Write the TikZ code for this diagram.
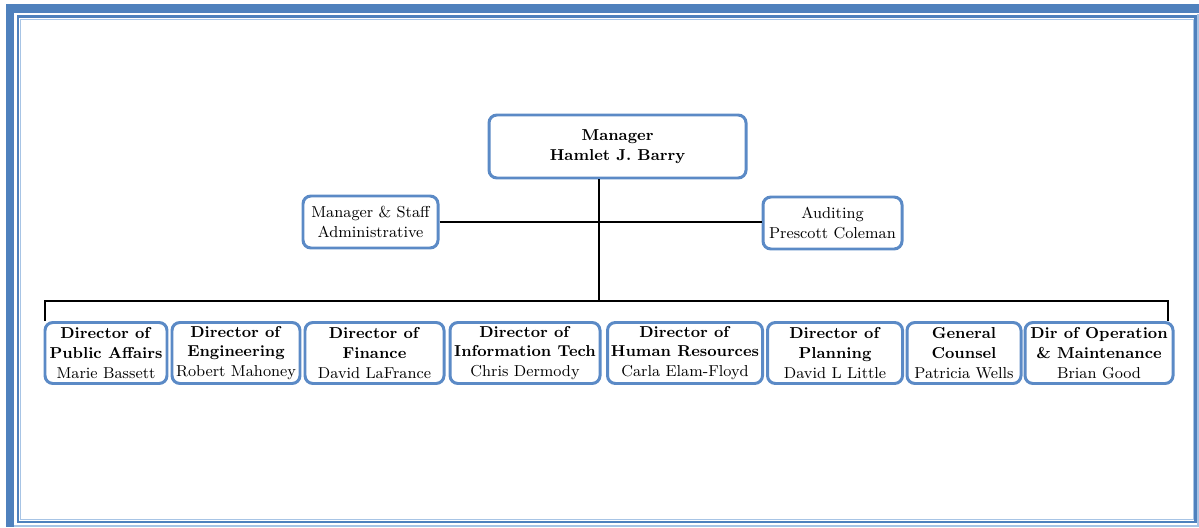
\documentclass[tikz,border=0pt]{standalone}
\usepackage{xcolor}
\usepackage{tikz}
\usetikzlibrary{positioning}

\definecolor{frameblue}{HTML}{4F81BD}
\definecolor{framelight}{HTML}{A7C4E5}
\definecolor{boxblue}{HTML}{5B8AC6}

\begin{document}
\begin{tikzpicture}[x=0.02cm, y=-0.02cm,
		unit/.style={draw=boxblue, line width=1.7pt, rounded corners=4.5pt, fill=white,
			inner sep=0pt, align=center, font=\fontsize{9}{11.3}\selectfont},
		link/.style={draw=black, line width=1.1pt}]
		\useasboundingbox (0, 0) rectangle (1199, 527);

		% page frame
		\fill[frameblue] (6, 4) rectangle (1199, 13);
		\fill[frameblue] (6, 4) rectangle (14, 527);
		\draw[framelight, line width=0.6pt] (14, 526) -- (1198, 526) -- (1198, 14);
		\draw[frameblue, line width=1.4pt] (17.75, 16.5) rectangle (1195.5, 521.8);
		\draw[framelight, line width=0.4pt] (20, 19) rectangle (1193.2, 519.6);

		% top level
		\node[unit, minimum width=257*0.02cm, minimum height=63*0.02cm] (mgr) at (617.5, 146.5)
			{\textbf{Manager}\\\textbf{Hamlet J. Barry}};
		\node[unit, minimum width=135*0.02cm, minimum height=52*0.02cm] (staff) at (370.5, 222)
			{Manager \& Staff\\Administrative};
		\node[unit, minimum width=139*0.02cm, minimum height=52*0.02cm] (audit) at (832.5, 223)
			{Auditing\\Prescott Coleman};

		% directors
		\node[unit, minimum width=122*0.02cm, minimum height=61*0.02cm] (pa) at (106, 353)
			{\textbf{Director of}\\\textbf{Public Affairs}\\Marie Bassett};
		\node[unit, minimum width=128*0.02cm, minimum height=61*0.02cm] (eng) at (236, 353)
			{\textbf{Director of}\\\textbf{Engineering}\\Robert Mahoney};
		\node[unit, minimum width=139*0.02cm, minimum height=61*0.02cm] (fin) at (374.5, 353)
			{\textbf{Director of}\\\textbf{Finance}\\David LaFrance};
		\node[unit, minimum width=150*0.02cm, minimum height=61*0.02cm] (it) at (525, 353)
			{\textbf{Director of}\\\textbf{Information Tech}\\Chris Dermody};
		\node[unit, minimum width=155*0.02cm, minimum height=61*0.02cm] (hr) at (685, 353)
			{\textbf{Director of}\\\textbf{Human Resources}\\Carla Elam-Floyd};
		\node[unit, minimum width=135*0.02cm, minimum height=61*0.02cm] (plan) at (835, 353)
			{\textbf{Director of}\\\textbf{Planning}\\David L Little};
		\node[unit, minimum width=114*0.02cm, minimum height=61*0.02cm] (gc) at (964, 353)
			{\textbf{General}\\\textbf{Counsel}\\Patricia Wells};
		\node[unit, minimum width=148*0.02cm, minimum height=61*0.02cm] (om) at (1099, 353)
			{\textbf{Dir of Operation}\\\textbf{\& Maintenance}\\Brian Good};

		% lines
		\coordinate (bus) at (599, 301);
		\coordinate (busL) at (45, 301);
		\coordinate (busR) at (1168, 301);
		\draw[link] (staff.east) -- (staff.east -| audit.west);
		\draw[link] (mgr.south -| bus) -- (bus);
		\draw[link] (pa.north -| busL) -- (busL) -- (busR) -- (om.north -| busR);
	\end{tikzpicture}
\end{document}
